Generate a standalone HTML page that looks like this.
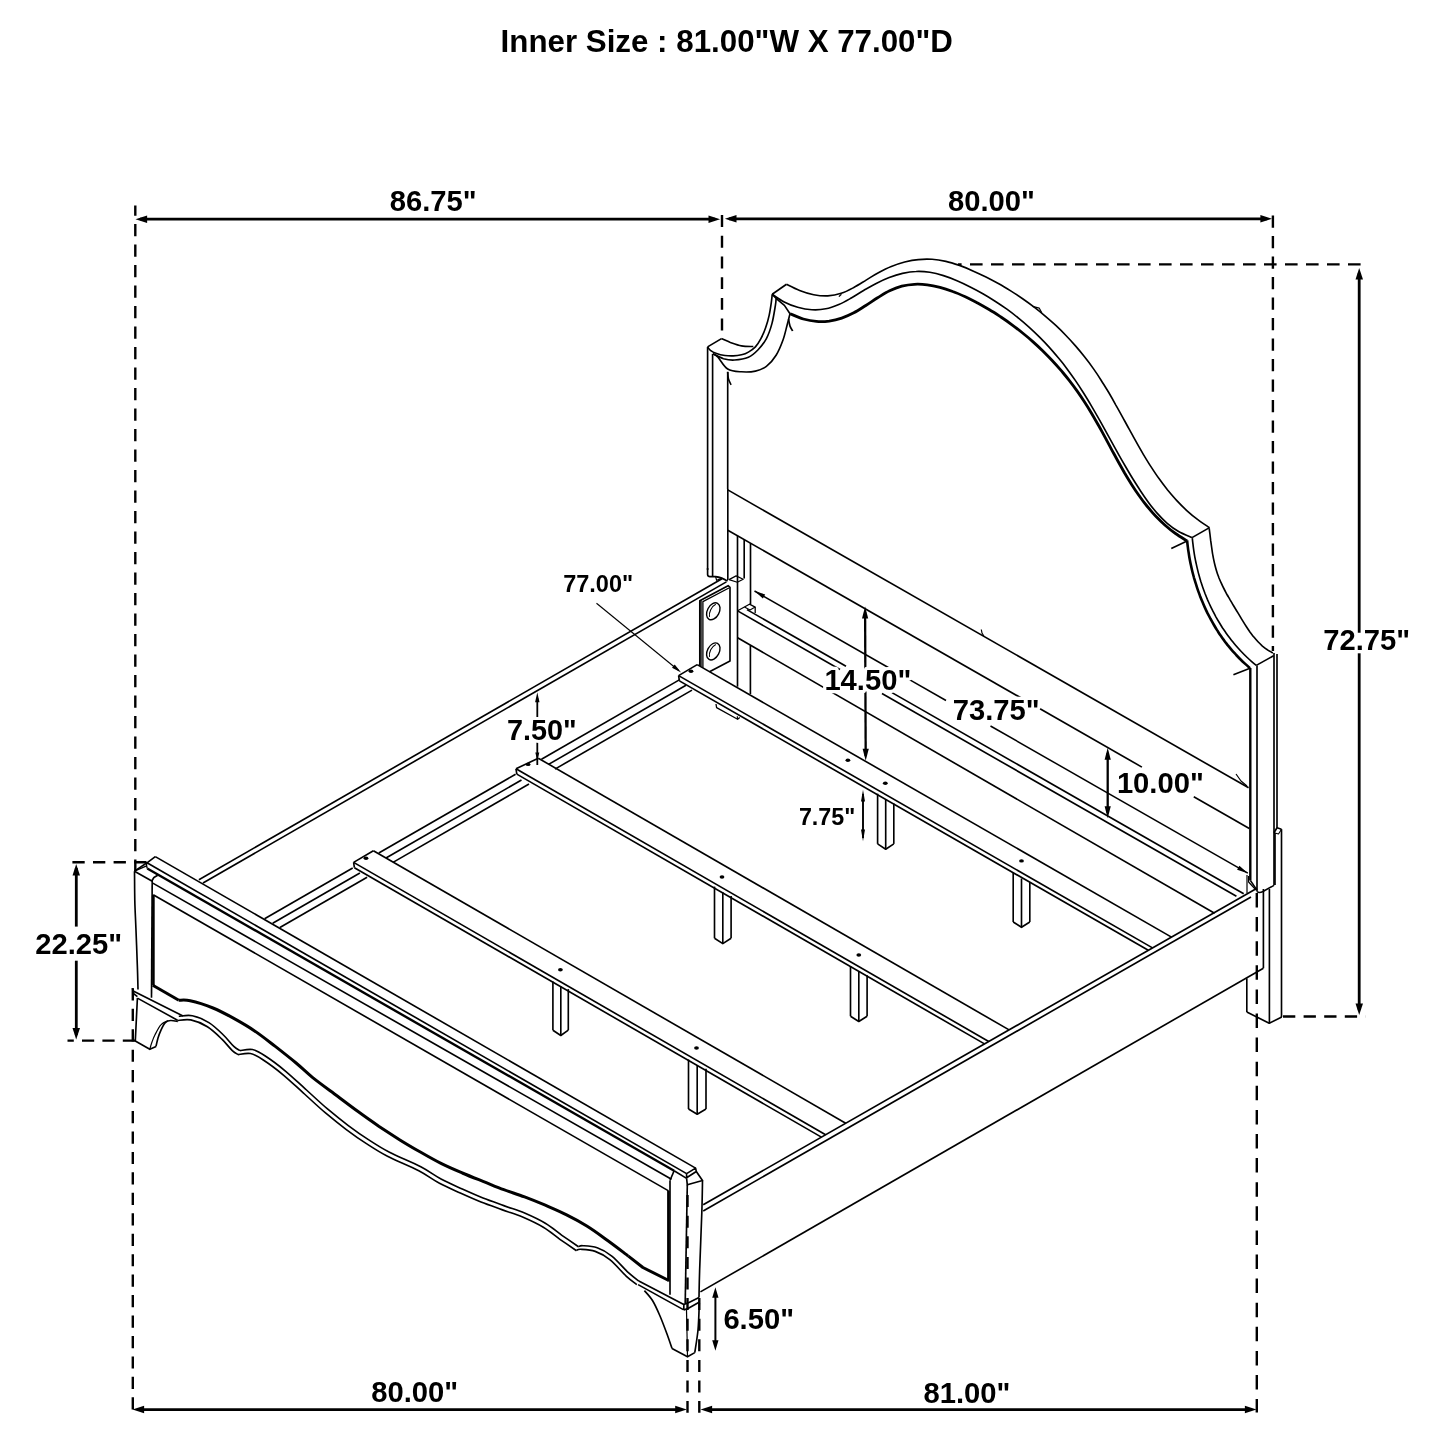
<!DOCTYPE html>
<html lang="en">
<head>
<meta charset="utf-8">
<title>Bed frame dimensions</title>
<style>
html,body{margin:0;padding:0;background:#fff;}
body{width:1445px;height:1445px;overflow:hidden;}
svg{display:block;will-change:transform;}
svg text{font-family:"Liberation Sans",Arial,Helvetica,sans-serif;font-weight:bold;fill:#000;}
</style>
</head>
<body>
<svg width="1445" height="1445" viewBox="0 0 1445 1445" fill="none" stroke="#000" stroke-linecap="butt" stroke-linejoin="round">
<rect x="0" y="0" width="1445" height="1445" fill="#fff" stroke="none"/>
<line x1="135.3" y1="205.4" x2="135.3" y2="871" stroke-width="2.4" stroke-dasharray="12.3 8.2" stroke-dashoffset="1.90"/>
<line x1="722" y1="215.1" x2="722" y2="339" stroke-width="2.4" stroke-dasharray="11.9 8.8" stroke-dashoffset="0.00"/>
<line x1="1272.9" y1="215.5" x2="1272.9" y2="651" stroke-width="2.4" stroke-dasharray="12.2 8.3" stroke-dashoffset="0.00"/>
<line x1="958" y1="264.4" x2="1360.6" y2="264.4" stroke-width="2.4" stroke-dasharray="12.6 8.4" stroke-dashoffset="9.00"/>
<line x1="1283" y1="1016.5" x2="1365.5" y2="1016.5" stroke-width="2.4" stroke-dasharray="12.3 8.3" stroke-dashoffset="0.00"/>
<line x1="72.4" y1="862.3" x2="146.8" y2="862.3" stroke-width="2.4" stroke-dasharray="12.3 8.3" stroke-dashoffset="0.00"/>
<line x1="67.5" y1="1040.6" x2="135.4" y2="1040.6" stroke-width="2.4" stroke-dasharray="12.2 8.2" stroke-dashoffset="5.90"/>
<line x1="132.8" y1="988.3" x2="132.8" y2="1409.5" stroke-width="2.4" stroke-dasharray="12.2 8.25" stroke-dashoffset="0.00"/>
<line x1="1256.8" y1="893" x2="1256.8" y2="1412.5" stroke-width="2.4" stroke-dasharray="14.5 9.6" stroke-dashoffset="0.00"/>
<line x1="687.5" y1="1195.1" x2="687.5" y2="1412.8" stroke-width="2.4" stroke-dasharray="12.0 8.6" stroke-dashoffset="0.00"/>
<line x1="699.3" y1="1298.1" x2="699.3" y2="1412.8" stroke-width="2.4" stroke-dasharray="12.0 8.6" stroke-dashoffset="0.00"/>
<line x1="140" y1="219.2" x2="715" y2="219.2" stroke-width="2.8"/>
<polygon points="135.5,219.2 147.1,215.4 147.1,222.9" fill="#000" stroke="none"/>
<polygon points="720.1,219.2 708.5,222.9 708.5,215.4" fill="#000" stroke="none"/>
<line x1="729" y1="218.8" x2="1267" y2="218.8" stroke-width="2.8"/>
<polygon points="724.9,218.8 736.5,215.1 736.5,222.6" fill="#000" stroke="none"/>
<polygon points="1272,218.8 1260.4,222.6 1260.4,215.1" fill="#000" stroke="none"/>
<line x1="1359.2" y1="273" x2="1359.2" y2="632.8" stroke-width="2.8"/>
<line x1="1359.2" y1="646" x2="1359.2" y2="1010" stroke-width="2.8"/>
<polygon points="1359.2,268 1363,279.6 1355.5,279.6" fill="#000" stroke="none"/>
<polygon points="1359.2,1015 1355.5,1003.4 1363,1003.4" fill="#000" stroke="none"/>
<line x1="76.3" y1="868" x2="76.3" y2="926.6" stroke-width="2.8"/>
<line x1="76.3" y1="960.7" x2="76.3" y2="1035" stroke-width="2.8"/>
<polygon points="76.2,864 80,875.6 72.5,875.6" fill="#000" stroke="none"/>
<polygon points="76.2,1039.5 72.5,1027.9 80,1027.9" fill="#000" stroke="none"/>
<line x1="137" y1="1409.6" x2="681" y2="1409.6" stroke-width="2.8"/>
<polygon points="132.5,1409.5 144.1,1405.8 144.1,1413.2" fill="#000" stroke="none"/>
<polygon points="686.8,1409.5 675.2,1413.2 675.2,1405.8" fill="#000" stroke="none"/>
<line x1="706" y1="1409.6" x2="1252" y2="1409.6" stroke-width="2.8"/>
<polygon points="700.5,1409.5 712.1,1405.8 712.1,1413.2" fill="#000" stroke="none"/>
<polygon points="1256.5,1409.5 1244.9,1413.2 1244.9,1405.8" fill="#000" stroke="none"/>
<line x1="715.4" y1="1294" x2="715.4" y2="1345" stroke-width="2.0"/>
<polygon points="715.4,1287.3 718.5,1297.8 712.2,1297.8" fill="#000" stroke="none"/>
<polygon points="715.4,1350.7 712.2,1340.2 718.5,1340.2" fill="#000" stroke="none"/>
<line x1="596.5" y1="603.2" x2="679" y2="670.8" stroke-width="1.1"/>
<polygon points="681.1,672.5 672,667.8 674.7,664.5" fill="#000" stroke="none"/>
<line x1="537.3" y1="717.4" x2="537.3" y2="698" stroke-width="1.8"/>
<polygon points="537.3,692.2 539.5,702.2 535.1,702.2" fill="#000" stroke="none"/>
<line x1="537.3" y1="741" x2="537.3" y2="765" stroke-width="1.8"/>
<polygon points="537.3,760.6 535.3,752.6 539.3,752.6" fill="#000" stroke="none"/>
<line x1="865.1" y1="612" x2="865.7" y2="756" stroke-width="2.3"/>
<polygon points="865.1,606.6 868.2,618.6 862,618.6" fill="#000" stroke="none"/>
<polygon points="865.7,760.8 862.6,748.8 868.8,748.8" fill="#000" stroke="none"/>
<line x1="1107.7" y1="753" x2="1107.7" y2="813" stroke-width="2.3"/>
<polygon points="1107.7,747.8 1110.8,759.8 1104.6,759.8" fill="#000" stroke="none"/>
<polygon points="1107.7,818.3 1104.6,806.3 1110.8,806.3" fill="#000" stroke="none"/>
<line x1="863" y1="794" x2="863" y2="838" stroke-width="1.9"/>
<polygon points="863,789.8 865,801.6 861,801.6" fill="#000" stroke="none"/>
<polygon points="863,841.2 861,829.4 865,829.4" fill="#000" stroke="none"/>
<line x1="707.6" y1="346.9" x2="707.6" y2="570" stroke-width="1.65"/>
<line x1="712.6" y1="353.8" x2="712.6" y2="576.6" stroke-width="1.65"/>
<line x1="727.7" y1="372" x2="727.7" y2="489" stroke-width="1.65"/>
<path d="M707.6 346.9 L721.5 338.6" stroke-width="1.65"/>
<path d="M721.5 338.6 C723 339.2 727.1 341.2 730.4 342.5 C733.8 343.7 737.7 345.2 741.5 345.9 C745.3 346.6 751.3 346.4 753.3 346.5" stroke-width="1.65"/>
<path d="M707.6 346.9 C708.1 347.5 708.9 349.2 710.4 350.3 C711.9 351.5 714.2 352.7 716.6 353.5 C719 354.4 722.1 355.1 724.9 355.5 C727.7 355.9 730.4 356 733.2 355.9 C736 355.8 739 355.4 741.5 354.8 C744.1 354.2 746.1 353.5 748.4 352.1 C750.7 350.8 753.3 349.1 755.4 346.9 C757.4 344.6 759.2 341.8 760.9 338.6 C762.6 335.4 764.4 331.4 765.7 327.5 C767.1 323.6 768.3 319.2 769.2 315.1 C770.1 310.9 770.8 306.1 771.3 302.6 C771.8 299.1 772.1 295.7 772.2 294.3" stroke-width="1.65"/>
<path d="M713.1 353.8 C714.9 354.6 720 357.6 723.5 358.7 C727.1 359.7 730.4 360.3 734.6 360 C738.8 359.8 744.5 359 748.4 357.3 C752.4 355.5 755.1 352.8 758.1 349.7 C761.1 346.5 764.1 343 766.4 338.6 C768.7 334.2 770.5 328.9 772 323.4 C773.5 317.8 774.7 309.5 775.4 305.4 C776.1 301.2 776 299.6 776.1 298.4" stroke-width="1.65"/>
<path d="M713.1 353.8 C714 354.4 715.6 354.7 718 357.3 C720.4 359.8 723.8 366.6 727.7 369 C731.6 371.5 736.9 371.5 741.5 371.8 C746.1 372.1 751.2 372 755.4 371.1 C759.5 370.2 763 368.9 766.4 366.3 C769.9 363.6 773.4 359.6 776.1 355.2 C778.9 350.8 781.2 345 783 340 C784.9 334.9 786 329.1 787.2 324.7 C788.4 320.4 789.5 315.5 790 313.7" stroke-width="1.65"/>
<path d="M772.2 294.3 L786.5 284.3" stroke-width="1.65"/>
<path d="M772.2 294.3 L777.5 299.6 L784.4 305.4 L790 313.7" stroke-width="1.65"/>
<path d="M727.7 371.8 C727.8 373 727.8 376.5 728.4 378.7 C729 380.9 730.7 383.9 731.1 384.9" stroke-width="1.65"/>
<path d="M788.6 319.2 C788.8 320.4 789.3 324.2 790 326.1 C790.7 328.1 792.3 330.2 792.7 331" stroke-width="1.65"/>
<path d="M786.5 284.3 C788.7 285.4 795.1 288.8 799.6 290.5 C804.1 292.3 809 293.8 813.7 294.7 C818.4 295.6 823.2 296.1 827.8 295.9 C832.4 295.6 836.9 294.7 841.2 293.3 C845.5 291.9 849.6 289.7 853.8 287.5 C857.9 285.3 862 282.6 866.1 280.1 C870.2 277.7 874.2 274.9 878.4 272.7 C882.7 270.4 887 268.2 891.3 266.5 C895.7 264.7 900.2 263.2 904.7 262 C909.2 260.9 913.7 260 918.3 259.6 C922.9 259.1 927.5 259 932.1 259.3 C936.7 259.6 941.3 260.4 945.9 261.4 C950.4 262.4 955 263.9 959.5 265.4 C964 267 968.5 268.9 972.9 270.9 C977.3 272.8 981.7 274.9 986 277 C990.3 279.2 994.6 281.5 998.8 283.8 C1002.9 286.1 1007 288.6 1011.1 291.1 C1015.1 293.6 1019.1 296.3 1023 299 C1026.9 301.7 1030.7 304.5 1034.5 307.4 C1038.3 310.3 1041.9 313.2 1045.5 316.3 C1049.1 319.3 1052.7 322.5 1056.1 325.7 C1059.5 328.9 1062.9 332.3 1066.2 335.7 C1069.4 339 1072.6 342.5 1075.7 346.1 C1078.8 349.6 1081.8 353.3 1084.7 357 C1087.7 360.7 1090.5 364.5 1093.2 368.4 C1095.9 372.2 1098.6 376.2 1101.1 380.2 C1103.7 384.2 1106.1 388.2 1108.6 392.3 C1111 396.4 1113.4 400.6 1115.7 404.8 C1118.1 408.9 1120.4 413.1 1122.7 417.3 C1125 421.5 1127.2 425.7 1129.6 429.9 C1131.9 434.1 1134.1 438.3 1136.5 442.4 C1138.8 446.6 1141.2 450.7 1143.6 454.8 C1146.1 458.9 1148.5 462.9 1151.1 466.9 C1153.6 470.8 1156.2 474.8 1159 478.6 C1161.7 482.4 1164.5 486.1 1167.4 489.8 C1170.4 493.4 1173.4 497 1176.6 500.4 C1179.8 503.8 1183.1 507.2 1186.5 510.3 C1190 513.5 1193.7 516.6 1197.5 519.4 C1201.3 522.3 1207.5 526.3 1209.5 527.7" stroke-width="1.65"/>
<path d="M772.2 294.3 C774.2 295.6 779.9 299.9 784.2 302 C788.4 304.2 793.1 306 797.7 307.3 C802.3 308.6 807.2 309.5 811.9 309.7 C816.6 310 821.3 309.7 825.8 308.8 C830.3 308 834.6 306.3 838.8 304.5 C843.1 302.7 847.2 300.3 851.3 298 C855.4 295.6 859.5 292.9 863.6 290.5 C867.8 288.1 872 285.6 876.2 283.5 C880.5 281.3 884.8 279.3 889.2 277.6 C893.6 275.9 898.1 274.4 902.5 273.4 C907 272.4 911.5 271.6 916.1 271.5 C920.6 271.3 925.2 271.6 929.8 272.3 C934.3 273 938.9 274.2 943.5 275.6 C948 277 952.6 278.8 957 280.7 C961.5 282.6 965.9 284.7 970.2 286.9 C974.5 289 978.7 291.3 982.9 293.7 C987.1 296.1 991.1 298.6 995.1 301.2 C999.2 303.8 1003.1 306.5 1006.9 309.2 C1010.8 312 1014.5 314.9 1018.2 317.9 C1021.9 320.9 1025.5 324 1029 327.1 C1032.5 330.3 1035.9 333.5 1039.3 336.9 C1042.6 340.2 1045.9 343.6 1049.1 347.1 C1052.3 350.6 1055.3 354.2 1058.3 357.8 C1061.4 361.4 1064.3 365.1 1067.1 368.9 C1069.9 372.7 1072.7 376.5 1075.3 380.4 C1078 384.3 1080.6 388.3 1083.1 392.3 C1085.6 396.3 1088.1 400.3 1090.5 404.4 C1092.9 408.5 1095.3 412.6 1097.6 416.7 C1100 420.9 1102.3 425 1104.6 429.2 C1106.9 433.3 1109.2 437.5 1111.5 441.7 C1113.8 445.9 1116.1 450 1118.4 454.2 C1120.8 458.3 1123.1 462.4 1125.5 466.5 C1127.9 470.6 1130.3 474.7 1132.8 478.8 C1135.3 482.8 1137.8 486.8 1140.4 490.7 C1143 494.7 1145.7 498.6 1148.5 502.4 C1151.3 506.2 1154.2 509.9 1157.3 513.4 C1160.4 516.9 1163.6 520.2 1167.2 523.3 C1170.7 526.3 1174.5 529.1 1178.6 531.5 C1182.8 533.9 1189.8 536.6 1192 537.6" stroke-width="1.65"/>
<path d="M790 313.7 C792.2 314.6 798.9 317.7 803.3 319 C807.8 320.3 812.1 321.1 816.4 321.4 C820.7 321.8 825 321.6 829.2 321.1 C833.4 320.5 837.6 319.5 841.7 318.1 C845.8 316.7 849.8 314.9 853.8 312.8 C857.9 310.7 861.8 308 865.8 305.5 C869.7 303 873.7 300.2 877.6 297.7 C881.6 295.3 885.6 292.7 889.6 290.8 C893.6 288.9 897.7 287.3 901.8 286.2 C906 285.1 910.2 284.5 914.4 284.3 C918.6 284.1 922.9 284.3 927.2 284.8 C931.4 285.3 935.7 286.2 940 287.3 C944.2 288.4 948.5 289.9 952.7 291.5 C957 293 961.2 294.9 965.3 296.8 C969.5 298.7 973.6 300.9 977.6 303 C981.6 305.2 985.6 307.5 989.5 309.8 C993.4 312.1 997.2 314.6 1000.9 317 C1004.7 319.5 1008.4 322.1 1012 324.8 C1015.6 327.4 1019.1 330.2 1022.6 333 C1026.1 335.8 1029.5 338.6 1032.8 341.6 C1036.1 344.5 1039.4 347.6 1042.6 350.7 C1045.7 353.8 1048.8 356.9 1051.9 360.2 C1054.9 363.4 1057.9 366.7 1060.8 370.1 C1063.6 373.5 1066.5 376.9 1069.2 380.4 C1071.9 383.9 1074.6 387.5 1077.2 391.1 C1079.8 394.8 1082.3 398.5 1084.7 402.2 C1087.2 406 1089.5 409.8 1091.8 413.7 C1094.1 417.6 1096.3 421.5 1098.6 425.5 C1100.8 429.4 1102.9 433.4 1105.1 437.4 C1107.2 441.3 1109.4 445.3 1111.5 449.3 C1113.7 453.3 1115.8 457.3 1118 461.2 C1120.2 465.2 1122.4 469.1 1124.6 473 C1126.9 476.8 1129.2 480.7 1131.6 484.4 C1134 488.2 1136.4 491.9 1139 495.5 C1141.5 499.1 1144.1 502.6 1146.9 506 C1149.7 509.4 1152.5 512.8 1155.6 516 C1158.6 519.1 1161.7 522.2 1165.1 525.2 C1168.4 528.1 1171.8 530.9 1175.5 533.5 C1179.2 536.2 1185.1 539.7 1187.1 541" stroke-width="2.8"/>
<path d="M1032.5 306.4 L1039.3 308.2 L1041.8 312.8" stroke-width="1.2"/>
<path d="M838.9 296.6 L841.4 294.2" stroke-width="1.3"/>
<path d="M1192 537.6 L1209.5 527.6" stroke-width="1.65"/>
<path d="M1171.3 548.4 L1187.1 540.9" stroke-width="1.65"/>
<path d="M1209.2 528.4 C1209.3 529.4 1209.7 532.4 1210 534.5 C1210.2 536.6 1210.5 538.6 1210.7 540.7 C1211 542.8 1211.3 544.9 1211.6 547 C1211.9 549.1 1212.2 551.3 1212.5 553.3 C1212.9 555.4 1213.2 557.5 1213.7 559.6 C1214.1 561.7 1214.6 563.8 1215.1 565.8 C1215.6 567.8 1216.2 569.9 1216.8 571.8 C1217.4 573.8 1218.2 575.8 1218.9 577.7 C1219.7 579.6 1220.5 581.5 1221.4 583.4 C1222.2 585.3 1223.1 587.1 1224.1 589 C1225 590.8 1226 592.6 1227 594.5 C1228 596.3 1229.1 598.1 1230.1 599.9 C1231.2 601.7 1232.3 603.5 1233.3 605.3 C1234.4 607.1 1235.5 608.9 1236.6 610.7 C1237.7 612.5 1238.8 614.4 1239.9 616.2 C1240.9 618 1242 619.8 1243.2 621.6 C1244.3 623.4 1245.4 625.2 1246.6 627 C1247.7 628.7 1248.9 630.5 1250.1 632.2 C1251.4 633.8 1252.6 635.5 1253.9 637.1 C1255.2 638.7 1256.6 640.3 1258 641.8 C1259.4 643.3 1260.9 644.7 1262.4 646.1 C1264 647.4 1265.6 648.7 1267.4 649.8 C1269.1 651 1271.9 652.4 1272.9 652.9" stroke-width="1.65"/>
<path d="M1192.3 538.1 C1192.4 539.1 1192.7 542.3 1193 544.4 C1193.2 546.5 1193.5 548.6 1193.8 550.7 C1194.1 552.8 1194.4 554.9 1194.8 556.9 C1195.2 559 1195.6 561.1 1196.1 563.2 C1196.5 565.3 1197 567.3 1197.5 569.4 C1198 571.5 1198.5 573.5 1199.1 575.6 C1199.7 577.6 1200.3 579.7 1200.9 581.7 C1201.6 583.7 1202.2 585.7 1202.9 587.7 C1203.6 589.7 1204.4 591.7 1205.1 593.7 C1205.9 595.7 1206.7 597.7 1207.5 599.6 C1208.4 601.6 1209.2 603.5 1210.1 605.4 C1211 607.4 1212 609.3 1212.9 611.2 C1213.9 613 1214.9 614.9 1215.9 616.8 C1216.9 618.6 1218 620.5 1219.1 622.3 C1220.2 624.1 1221.3 625.9 1222.4 627.7 C1223.6 629.4 1224.8 631.2 1226 632.9 C1227.2 634.6 1228.5 636.3 1229.8 638 C1231 639.7 1232.4 641.4 1233.7 643 C1235 644.6 1236.4 646.2 1237.8 647.8 C1239.2 649.4 1240.7 651 1242.2 652.5 C1243.6 654 1245.1 655.5 1246.7 657 C1248.2 658.4 1249.8 659.9 1251.4 661.3 C1253 662.7 1255.4 664.7 1256.3 665.4" stroke-width="1.65"/>
<path d="M1187.1 540.4 C1187.2 541.5 1187.5 544.6 1187.8 546.7 C1188 548.8 1188.3 550.9 1188.7 553 C1189 555.1 1189.3 557.2 1189.7 559.2 C1190.1 561.3 1190.5 563.4 1191 565.5 C1191.4 567.5 1191.9 569.6 1192.4 571.7 C1192.9 573.7 1193.5 575.8 1194 577.8 C1194.6 579.8 1195.2 581.9 1195.9 583.9 C1196.5 585.9 1197.1 587.9 1197.8 589.9 C1198.5 591.9 1199.3 593.9 1200 595.9 C1200.8 597.9 1201.6 599.9 1202.4 601.8 C1203.2 603.8 1204 605.7 1204.9 607.6 C1205.8 609.6 1206.7 611.5 1207.6 613.4 C1208.6 615.2 1209.6 617.1 1210.6 619 C1211.6 620.8 1212.6 622.7 1213.7 624.5 C1214.7 626.3 1215.8 628.1 1216.9 629.9 C1218.1 631.7 1219.2 633.5 1220.4 635.2 C1221.6 636.9 1222.8 638.7 1224.1 640.4 C1225.3 642.1 1226.6 643.7 1227.9 645.4 C1229.2 647 1230.6 648.7 1232 650.3 C1233.4 651.9 1234.8 653.4 1236.2 655 C1237.6 656.5 1239.1 658.1 1240.6 659.5 C1242.1 661 1243.7 662.5 1245.2 663.9 C1246.8 665.4 1249.2 667.5 1250 668.2" stroke-width="2.6"/>
<path d="M1256.3 665.4 L1273.6 655.7" stroke-width="1.65"/>
<path d="M1233.4 674.7 L1250 668.2" stroke-width="1.65"/>
<line x1="1250.3" y1="668" x2="1250.3" y2="880.4" stroke-width="2.4"/>
<line x1="1257" y1="665.5" x2="1257" y2="891.5" stroke-width="1.65"/>
<line x1="1274" y1="653" x2="1274" y2="885.3" stroke-width="1.65"/>
<line x1="1277" y1="654" x2="1277" y2="827.8" stroke-width="1.65"/>
<line x1="727.8" y1="489.9" x2="1248.6" y2="787.8" stroke-width="1.65"/>
<line x1="727.8" y1="530.2" x2="1141.9" y2="767.1" stroke-width="1.65"/>
<line x1="1193.8" y1="796.8" x2="1249.3" y2="828.5" stroke-width="1.65"/>
<path d="M981.3 629.5 L982 633 L983.8 636" stroke-width="1.2"/>
<path d="M1236 774 L1241 781 L1247 786" stroke-width="1.2"/>
<line x1="754.5" y1="591" x2="893.5" y2="670.5" stroke-width="1.5"/>
<line x1="909" y1="679.4" x2="946" y2="700.5" stroke-width="1.5"/>
<line x1="990.5" y1="726" x2="1247.8" y2="873.2" stroke-width="1.5"/>
<polygon points="754.5,591 765.2,594.5 762.9,598.5" fill="#000" stroke="none"/>
<polygon points="1247.8,873.2 1237.1,869.7 1239.4,865.7" fill="#000" stroke="none"/>
<line x1="747" y1="609.6" x2="846" y2="666.3" stroke-width="1.65"/>
<line x1="892" y1="692.6" x2="1243.7" y2="893.7" stroke-width="1.65"/>
<line x1="737.6" y1="610.9" x2="840" y2="669.5" stroke-width="1.65"/>
<line x1="882" y1="693.5" x2="1236.4" y2="896.3" stroke-width="1.65"/>
<line x1="737.6" y1="637.8" x2="1214.6" y2="913.3" stroke-width="1.65"/>
<path d="M737.6 610.8 L749.4 604.2 L755.2 607.1 L755.2 613" stroke-width="1.3"/>
<path d="M744.5 607 L750 610 L755.2 607.1" stroke-width="1.1"/>
<line x1="727.8" y1="489" x2="727.8" y2="580" stroke-width="1.65"/>
<line x1="737.5" y1="535.6" x2="737.5" y2="686.7" stroke-width="1.65"/>
<line x1="744.2" y1="539.4" x2="744.2" y2="578.5" stroke-width="1.65"/>
<line x1="750.5" y1="543.1" x2="750.5" y2="604.2" stroke-width="1.65"/>
<line x1="750.4" y1="645.5" x2="750.4" y2="694" stroke-width="1.65"/>
<path d="M707.6 568 L707.6 574.6 Q707.8 576.6 710 576.6 L715.6 576.6 Q722 577.2 727.6 581.2" stroke-width="1.65"/>
<path d="M715.6 576.6 L716.6 580.3 L721 578.6" stroke-width="1.2"/>
<path d="M729 579.6 L736.1 575.9 L743.2 579.2 L737.3 582.2 L729 579.6" stroke-width="1.2"/>
<path d="M699.8 666 L699.8 600.7 L728.1 585.7 L730 587.4 L730 661.1 L709.5 671.8" stroke-width="1.65"/>
<line x1="701" y1="600.3" x2="701" y2="666.6" stroke-width="1.4"/>
<path d="M702.9 667.8 L702.9 601.6 L728.9 588" stroke-width="1.3"/>
<ellipse cx="713.3" cy="611.3" rx="5.9" ry="9.1" transform="rotate(28 713.3 611.3)" stroke-width="1.4"/>
<path d="M709.5 616.8 A5.9 9.1 28 0 1 715.8 604.3" stroke-width="1.1"/>
<ellipse cx="713.3" cy="651.4" rx="5.9" ry="9.1" transform="rotate(28 713.3 651.4)" stroke-width="1.4"/>
<path d="M709.5 656.9 A5.9 9.1 28 0 1 715.8 644.4" stroke-width="1.1"/>
<path d="M716 704 L716.6 707.6 L737.6 719.3 L739.8 717.6" stroke-width="1.3"/>
<path d="M737.6 719.3 L737.3 716.2" stroke-width="1.2"/>
<line x1="722" y1="578.8" x2="198.9" y2="879.7" stroke-width="1.65"/>
<line x1="726.4" y1="581.9" x2="203" y2="883" stroke-width="1.65"/>
<line x1="679.3" y1="679.9" x2="541.5" y2="759.2" stroke-width="1.65"/>
<line x1="515.6" y1="774.2" x2="378.8" y2="853" stroke-width="1.65"/>
<line x1="352.7" y1="868" x2="264.6" y2="918.7" stroke-width="1.65"/>
<line x1="686" y1="685.2" x2="548.5" y2="764.4" stroke-width="1.65"/>
<line x1="521.5" y1="780" x2="386" y2="858" stroke-width="1.65"/>
<line x1="359.9" y1="873" x2="272.7" y2="923.3" stroke-width="1.65"/>
<line x1="692" y1="690.1" x2="555" y2="769.1" stroke-width="1.65"/>
<line x1="529" y1="784" x2="393" y2="862.4" stroke-width="1.65"/>
<line x1="367.1" y1="877.3" x2="279.9" y2="927.5" stroke-width="1.65"/>
<path d="M678.6 675.6 L697.2 664.6" stroke-width="1.65"/>
<line x1="678.6" y1="675.6" x2="679.4" y2="680.9" stroke-width="1.65"/>
<line x1="697.2" y1="664.6" x2="1171.5" y2="937.1" stroke-width="1.65"/>
<line x1="678.6" y1="675.6" x2="1152.5" y2="947.9" stroke-width="1.65"/>
<line x1="679.4" y1="680.9" x2="1148.3" y2="950.3" stroke-width="1.65"/>
<path d="M516 768.8 L538.3 758.2" stroke-width="1.65"/>
<line x1="516" y1="768.8" x2="516.8" y2="774.1" stroke-width="1.65"/>
<line x1="538.3" y1="758.2" x2="1009.1" y2="1029.9" stroke-width="1.65"/>
<line x1="516" y1="768.8" x2="988.7" y2="1041.5" stroke-width="1.65"/>
<line x1="516.8" y1="774.1" x2="984.5" y2="1043.9" stroke-width="1.65"/>
<path d="M353.6 862.4 L373.4 850.7" stroke-width="1.65"/>
<line x1="353.6" y1="862.4" x2="354.4" y2="867.7" stroke-width="1.65"/>
<line x1="373.4" y1="850.7" x2="845.7" y2="1123.2" stroke-width="1.65"/>
<line x1="353.6" y1="862.4" x2="825.6" y2="1134.7" stroke-width="1.65"/>
<line x1="354.4" y1="867.7" x2="821.4" y2="1137.1" stroke-width="1.65"/>
<ellipse cx="691" cy="671.3" rx="2.4" ry="1.7" fill="#000" stroke="none"/>
<ellipse cx="847.9" cy="760.3" rx="2.4" ry="1.7" fill="#000" stroke="none"/>
<ellipse cx="885.3" cy="783.2" rx="2.4" ry="1.7" fill="#000" stroke="none"/>
<ellipse cx="1021.5" cy="860.9" rx="2.4" ry="1.7" fill="#000" stroke="none"/>
<ellipse cx="528.1" cy="764.4" rx="2.4" ry="1.7" fill="#000" stroke="none"/>
<ellipse cx="722" cy="877" rx="2.4" ry="1.7" fill="#000" stroke="none"/>
<ellipse cx="858.8" cy="955" rx="2.4" ry="1.7" fill="#000" stroke="none"/>
<ellipse cx="366" cy="858.2" rx="2.4" ry="1.7" fill="#000" stroke="none"/>
<ellipse cx="560.4" cy="969.8" rx="2.4" ry="1.7" fill="#000" stroke="none"/>
<ellipse cx="696.5" cy="1048" rx="2.4" ry="1.7" fill="#000" stroke="none"/>
<line x1="877.6" y1="793.7" x2="877.6" y2="843.9" stroke-width="1.65"/>
<line x1="885.7" y1="799.6" x2="885.7" y2="849.2" stroke-width="1.65"/>
<line x1="893.8" y1="803.5" x2="893.8" y2="843.9" stroke-width="1.65"/>
<path d="M877.6 843.9 L885.7 849.2 L893.8 843.9" stroke-width="1.65"/>
<line x1="1013.2" y1="872.9" x2="1013.2" y2="922" stroke-width="1.65"/>
<line x1="1021.5" y1="878.5" x2="1021.5" y2="927.3" stroke-width="1.65"/>
<line x1="1029.8" y1="882.2" x2="1029.8" y2="922" stroke-width="1.65"/>
<path d="M1013.2 922 L1021.5 927.3 L1029.8 922" stroke-width="1.65"/>
<line x1="714.5" y1="886.6" x2="714.5" y2="938.3" stroke-width="1.65"/>
<line x1="722.8" y1="892.3" x2="722.8" y2="943.6" stroke-width="1.65"/>
<line x1="731.1" y1="896" x2="731.1" y2="938.3" stroke-width="1.65"/>
<path d="M714.5 938.3 L722.8 943.6 L731.1 938.3" stroke-width="1.65"/>
<line x1="850.5" y1="966" x2="850.5" y2="1016.2" stroke-width="1.65"/>
<line x1="858.8" y1="971.6" x2="858.8" y2="1021.5" stroke-width="1.65"/>
<line x1="867.1" y1="975.3" x2="867.1" y2="1016.2" stroke-width="1.65"/>
<path d="M850.5 1016.2 L858.8 1021.5 L867.1 1016.2" stroke-width="1.65"/>
<line x1="552.9" y1="981.5" x2="552.9" y2="1030.2" stroke-width="1.65"/>
<line x1="560.8" y1="986.3" x2="560.8" y2="1035.5" stroke-width="1.65"/>
<line x1="568.3" y1="989.1" x2="568.3" y2="1030.2" stroke-width="1.65"/>
<path d="M552.9 1030.2 L560.8 1035.5 L568.3 1030.2" stroke-width="1.65"/>
<line x1="688.5" y1="1059.5" x2="688.5" y2="1109" stroke-width="1.65"/>
<line x1="697.2" y1="1065.1" x2="697.2" y2="1114.2" stroke-width="1.65"/>
<line x1="706" y1="1068.7" x2="706" y2="1109" stroke-width="1.65"/>
<path d="M688.5 1109 L697.2 1114.2 L706 1109" stroke-width="1.65"/>
<line x1="1257" y1="888.2" x2="703.2" y2="1204.7" stroke-width="1.65"/>
<line x1="1251" y1="897" x2="703.2" y2="1211" stroke-width="1.65"/>
<line x1="1263.4" y1="968.2" x2="700.4" y2="1291.9" stroke-width="1.65"/>
<line x1="1263.4" y1="889" x2="1263.4" y2="968.2" stroke-width="1.65"/>
<path d="M1250.3 880.4 L1257 890.1" stroke-width="1.65"/>
<path d="M1257 891.5 Q1259 893.5 1263 891.5 L1274 885.3" stroke-width="1.5"/>
<line x1="1269.4" y1="889" x2="1269.4" y2="1023.2" stroke-width="1.65"/>
<line x1="1281.5" y1="829.2" x2="1281.5" y2="1017" stroke-width="1.65"/>
<line x1="1275" y1="832.7" x2="1275" y2="885" stroke-width="1.65"/>
<path d="M1274 832.7 L1277 827.8 L1281.5 829.2" stroke-width="1.65"/>
<path d="M1274 832.7 L1278.5 834 L1281.5 829.2" stroke-width="1.1"/>
<line x1="1246.8" y1="978.3" x2="1246.8" y2="1012" stroke-width="1.65"/>
<path d="M1246.8 1012 L1269.2 1023.2 L1281.8 1017" stroke-width="1.65"/>
<path d="M1247 875 L1247 893" stroke-width="1.2"/>
<path d="M1248.6 876 L1248.6 882 L1256 890" stroke-width="1.2"/>
<line x1="155.3" y1="856.6" x2="695.6" y2="1168.1" stroke-width="1.65"/>
<line x1="147" y1="862.8" x2="686.6" y2="1173.6" stroke-width="1.65"/>
<line x1="147.3" y1="868.5" x2="674.1" y2="1170.8" stroke-width="2.4"/>
<line x1="152.8" y1="883.1" x2="671.5" y2="1179.2" stroke-width="1.65"/>
<line x1="153.2" y1="894.7" x2="668.6" y2="1190.9" stroke-width="1.65"/>
<path d="M134.5 871.3 C134.6 876.1 134.6 890.9 134.8 900.4 C135 909.9 135.5 917.3 135.9 928 C136.3 938.7 137 954.4 137.3 964.6 C137.7 974.9 137.9 985.4 138 989.5" stroke-width="1.65"/>
<path d="M134.5 871.1 L147 862.8 L155.3 856.6" stroke-width="1.65"/>
<path d="M134.5 871.3 L151.8 881 L153.9 877.5 L157.7 875.3" stroke-width="1.65"/>
<path d="M134.5 871.1 L146.6 865.8 L146.6 862.3" stroke-width="1.3"/>
<path d="M146.6 865.8 L147.3 868.5" stroke-width="1.3"/>
<line x1="152.2" y1="880.1" x2="151.5" y2="997.8" stroke-width="1.65"/>
<line x1="153.4" y1="895" x2="153.4" y2="985.3" stroke-width="2.6"/>
<path d="M132.5 988.4 L133.9 993.9 L137.4 996.7" stroke-width="1.65"/>
<path d="M132.5 988.4 L133.2 991.1 L183 1016" stroke-width="1.65"/>
<path d="M137.4 998.1 L177.5 1020.2" stroke-width="1.65"/>
<path d="M137.4 998.1 L135.3 1041 L149.8 1049.3 L156.1 1046.5" stroke-width="1.65"/>
<path d="M156 1046.4 C156.3 1045 157.2 1040.8 158 1038 C158.8 1035.2 159.9 1032.4 161.1 1029.8 C162.3 1027.2 163.7 1024.2 165.3 1022.6 C166.9 1021.1 168.4 1020.7 170.5 1020.5 C172.6 1020.3 176.6 1021.3 177.8 1021.5" stroke-width="1.65"/>
<path d="M149.7 1049.5 C150.1 1048.2 151.1 1044.4 152 1042 C152.9 1039.6 153.4 1037.9 154.9 1035 C156.4 1032.1 158.8 1027 161.1 1024.6 C163.3 1022.2 167.2 1021.2 168.4 1020.5" stroke-width="1.2"/>
<path d="M152.8 985.2 L178.8 1000.3" stroke-width="3.0"/>
<path d="M178.8 1000.3 C180.7 1000.4 184.5 999.5 190.2 1000.8 C195.9 1002 205.8 1005.1 213 1008 C220.3 1011 226.9 1014.6 233.8 1018.4 C240.7 1022.2 247.6 1026.2 254.6 1030.9 C261.5 1035.5 268.4 1041.1 275.3 1046.4 C282.2 1051.8 289.9 1057.9 296.1 1063 C302.3 1068.2 305.8 1072 312.7 1077.6 C319.6 1083.1 330 1090.6 337.6 1096.3 C345.2 1102 351.5 1106.8 358.4 1111.8 C365.3 1116.9 372.2 1121.7 379.1 1126.4 C386.1 1131 393 1135.5 399.9 1139.9 C406.8 1144.2 413.8 1148.3 420.8 1152.3 C427.7 1156.3 434.6 1160.2 441.5 1163.7 C448.4 1167.2 455.4 1170.1 462.3 1173 C469.2 1176 476.1 1178.6 483 1181.3 C490 1184.1 496.9 1187.1 503.8 1189.7 C510.7 1192.2 517.6 1194.3 524.6 1196.9 C531.5 1199.5 538.4 1202.3 545.3 1205.2 C552.2 1208.2 559.2 1211.1 566.1 1214.6 C573 1218 579.9 1221.7 586.8 1226 C593.8 1230.3 600.7 1235.5 607.6 1240.5 C614.5 1245.5 624.9 1253.5 628.4 1256.1" stroke-width="3.0"/>
<path d="M628.4 1256.1 L642.9 1267.5 L667.8 1280" stroke-width="3.0"/>
<path d="M178.8 1016.3 C181 1016.2 187.3 1014.7 192.3 1015.7 C197.3 1016.7 203.7 1019.3 208.9 1022.6 C214.1 1025.8 219.3 1031 223.4 1035 C227.6 1039 231 1043.8 233.8 1046.4 C236.6 1049 239 1049.9 240 1050.6" stroke-width="1.65"/>
<path d="M240 1050.6 C242.1 1050.4 248.3 1048.7 252.5 1049.5 C256.6 1050.4 259.4 1052.1 264.9 1055.8 C270.5 1059.4 278.8 1065.6 285.7 1071.3 C292.6 1077.1 299.5 1083.8 306.5 1090 C313.4 1096.3 320.3 1102.8 327.2 1108.7 C334.2 1114.6 341.1 1120.1 348 1125.3 C354.9 1130.5 361.8 1135.4 368.8 1139.9 C375.7 1144.4 380.8 1147.8 389.5 1152.3 C398.2 1156.8 412.1 1162.3 420.8 1166.8 C429.4 1171.3 434.6 1175.6 441.5 1179.3 C448.4 1183 455.4 1185.9 462.3 1189 C469.2 1192.1 476.1 1195.2 483 1198 C490 1200.7 496.9 1203.1 503.8 1205.6 C510.7 1208.2 517.6 1210.2 524.6 1213.1 C531.5 1216.1 539.1 1219.6 545.3 1223.3 C551.6 1227 556.4 1231.4 561.9 1235.3 C567.5 1239.2 575.8 1244.8 578.5 1246.7" stroke-width="1.65"/>
<path d="M578.5 1246.7 C579.2 1246.6 579.6 1245.5 582.7 1245.7 C585.8 1245.9 592.4 1246.1 597.2 1247.8 C602.1 1249.5 606.6 1251.9 611.8 1256.1 C617 1260.2 623.9 1268.5 628.4 1272.7 C632.9 1276.8 637 1279.6 638.8 1281" stroke-width="1.65"/>
<path d="M177.3 1020.5 C179.5 1020.4 185.8 1018.9 190.8 1019.9 C195.8 1020.9 202.2 1023.5 207.4 1026.8 C212.6 1030 217.8 1035.2 221.9 1039.2 C226.1 1043.2 229.5 1048 232.3 1050.6 C235.1 1053.2 237.5 1054.1 238.5 1054.8" stroke-width="1.65"/>
<path d="M238 1054.6 C240.1 1054.4 246.3 1052.7 250.5 1053.5 C254.6 1054.4 257.4 1056.1 262.9 1059.8 C268.5 1063.4 276.8 1069.6 283.7 1075.3 C290.6 1081.1 297.5 1087.8 304.5 1094 C311.4 1100.3 318.3 1106.8 325.2 1112.7 C332.2 1118.6 339.1 1124.1 346 1129.3 C352.9 1134.5 359.8 1139.4 366.8 1143.9 C373.7 1148.4 378.8 1151.8 387.5 1156.3 C396.2 1160.8 410.1 1166.3 418.8 1170.8 C427.4 1175.3 432.6 1179.6 439.5 1183.3 C446.4 1187 453.4 1189.9 460.3 1193 C467.2 1196.1 474.1 1199.2 481 1202 C488 1204.7 494.9 1207.1 501.8 1209.6 C508.7 1212.2 515.6 1214.2 522.6 1217.1 C529.5 1220.1 537.1 1223.6 543.3 1227.3 C549.6 1231 554.4 1235.4 559.9 1239.3 C565.5 1243.2 573.8 1248.8 576.5 1250.7" stroke-width="1.65"/>
<path d="M576.5 1250.3 C577.2 1250.2 577.6 1249.1 580.7 1249.3 C583.8 1249.5 590.4 1249.7 595.2 1251.4 C600.1 1253.1 604.6 1255.5 609.8 1259.7 C615 1263.8 621.9 1272.1 626.4 1276.3 C630.9 1280.4 635 1283.2 636.8 1284.6" stroke-width="1.65"/>
<line x1="670" y1="1180.5" x2="670" y2="1294.7" stroke-width="1.65"/>
<line x1="668.4" y1="1191" x2="668.4" y2="1281.6" stroke-width="2.6"/>
<path d="M674.1 1170.8 L670 1180.5" stroke-width="1.65"/>
<path d="M674.1 1170.8 L686.6 1178.4" stroke-width="1.65"/>
<path d="M686.6 1173.6 L695.6 1168.1 L696.3 1171.5 L686.6 1177.8 L686.6 1173.6" stroke-width="1.65"/>
<path d="M696.3 1171.5 L702.5 1180.5 L687.3 1184.7 L686.6 1178.4" stroke-width="1.65"/>
<path d="M702.5 1180.5 C702.4 1185.9 702.3 1198.3 701.8 1213 C701.3 1227.7 700.2 1254.3 699.7 1268.4 C699.2 1282.5 699.1 1292.7 699 1297.5" stroke-width="1.65"/>
<line x1="687.3" y1="1184.7" x2="685.2" y2="1303" stroke-width="1.65"/>
<path d="M638.8 1280.9 L683.8 1304.4 L683.8 1309.9" stroke-width="1.65"/>
<path d="M638.1 1284.6 L683.8 1309.9" stroke-width="1.65"/>
<path d="M683.8 1304.4 L688 1303 L699 1297.5" stroke-width="1.65"/>
<path d="M683.8 1309.9 L688 1308.5 L699.5 1302" stroke-width="1.65"/>
<path d="M644.4 1290.6 C645.8 1292.2 649.9 1296.3 652.5 1300.5 C655.1 1304.7 657.6 1310.4 660 1316 C662.4 1321.6 665 1328.6 667 1334 C669 1339.4 671.2 1346.1 672 1348.5" stroke-width="1.65"/>
<path d="M672 1348.5 L687.5 1356.8 L694.8 1352.6" stroke-width="1.65"/>
<path d="M699.3 1303 C699.1 1307.5 698.8 1321.7 698 1330 C697.2 1338.3 695.3 1348.8 694.8 1352.6" stroke-width="1.65"/>
<line x1="686.5" y1="1310" x2="687.5" y2="1356.8" stroke-width="1.2"/>
<text x="500.6" y="52" font-size="31.3" stroke="none">Inner Size : 81.00&quot;W X 77.00&quot;D</text>
<text x="389.8" y="210.7" font-size="29.2" stroke="none">86.75&quot;</text>
<text x="948" y="210.7" font-size="29.2" stroke="none">80.00&quot;</text>
<text x="1323.2" y="649.9" font-size="29.2" stroke="#fff" stroke-width="6.5" stroke-linejoin="round" paint-order="stroke fill">72.75&quot;</text>
<text x="35.2" y="953.6" font-size="29.2" stroke="none">22.25&quot;</text>
<text x="371.3" y="1401.9" font-size="29.2" stroke="none">80.00&quot;</text>
<text x="923.5" y="1403" font-size="29.2" stroke="none">81.00&quot;</text>
<text x="723.4" y="1329.4" font-size="29.2" stroke="none">6.50&quot;</text>
<text x="563.2" y="592.4" font-size="23.5" stroke="none">77.00&quot;</text>
<text x="507" y="740.2" font-size="28.8" stroke="#fff" stroke-width="6" stroke-linejoin="round" paint-order="stroke fill">7.50&quot;</text>
<text x="824.4" y="689.9" font-size="29.2" stroke="#fff" stroke-width="6.5" stroke-linejoin="round" paint-order="stroke fill">14.50&quot;</text>
<text x="952.7" y="719.9" font-size="29.2" stroke="#fff" stroke-width="6.5" stroke-linejoin="round" paint-order="stroke fill">73.75&quot;</text>
<text x="1116.9" y="792.5" font-size="29.2" stroke="#fff" stroke-width="6.5" stroke-linejoin="round" paint-order="stroke fill">10.00&quot;</text>
<text x="798.9" y="824.6" font-size="23.3" stroke="none">7.75&quot;</text>
</svg>
</body>
</html>
